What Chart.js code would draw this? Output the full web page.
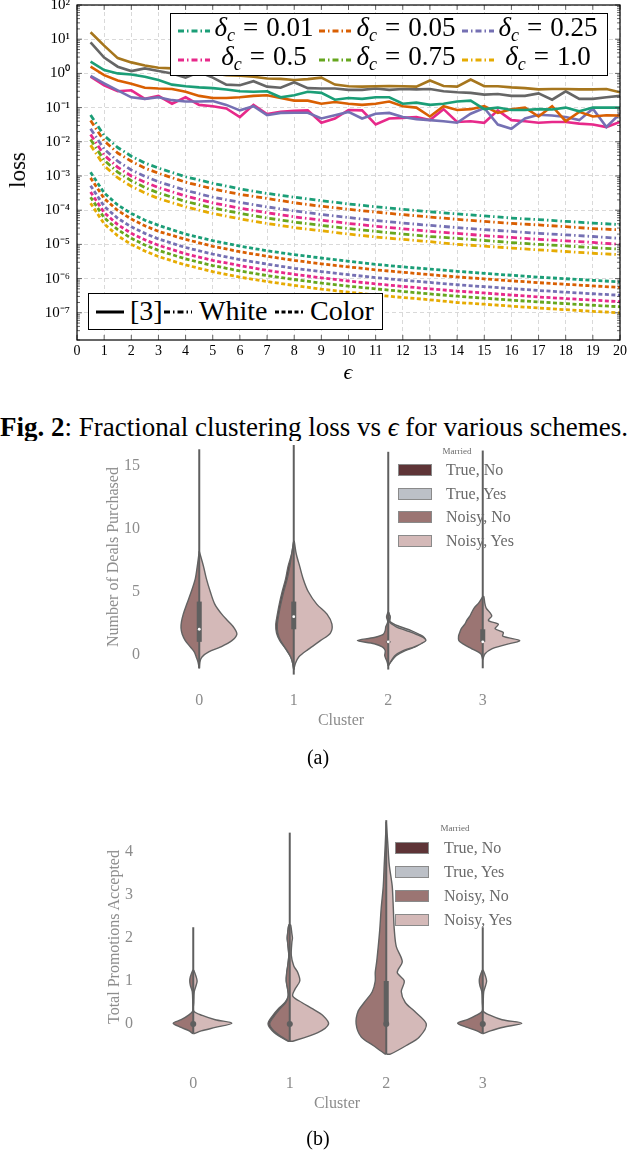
<!DOCTYPE html>
<html>
<head>
<meta charset="utf-8">
<script src="https://cdn.jsdelivr.net/npm/chart.js@4.4.0/dist/chart.umd.min.js"></script>
<style>
  body { margin: 0; width: 640px; height: 1150px; position: relative; overflow: hidden; background: #fff; font-family: 'Liberation Serif', serif; }
  canvas, .abs { position: absolute; }
  .rot { transform: translate(-50%, -50%) rotate(-90deg); white-space: nowrap; }
  .ctr { transform: translate(-50%, -50%); white-space: nowrap; }
  .box { border: 1px solid #000; background: #fff; box-sizing: border-box; }
  .leg { font-size: 27px; line-height: 30px; color: #000; white-space: nowrap; transform: translate(-50%, -50%); }
  .leg sub { font-size: 18px; vertical-align: -5px; }
  .eq { margin: 0 8px; }
  .vtxt { color: #8c8c8c; font-size: 16px; }
  .vleg { color: #6a6a6a; font-size: 16px; white-space: nowrap; transform: translateY(-50%); }
  .patch { width: 34px; height: 12px; border: 1px solid #8a8a8a; box-sizing: border-box; transform: translateY(-50%); }
</style>
</head>
<body>
<canvas id="lossChart" width="640" height="390" style="left:0;top:0"></canvas>
<div class="abs rot" style="left:18px;top:170px;font-size:23px">loss</div>
<div class="abs ctr" style="left:348px;top:372px;font-size:22px"><i>ϵ</i></div>
<div id="legTop" class="abs box" style="left:170px;top:13px;width:438px;height:63px"></div>
<div id="legBottom" class="abs box" style="left:88px;top:293px;width:295px;height:37px"></div>

<div class="abs" style="left:0;top:412px;width:640px;height:29px;overflow:hidden">
  <div style="font-size:27px;line-height:30px;white-space:nowrap"><b>Fig. 2</b>: Fractional clustering loss vs <i>ϵ</i> for various schemes.</div>
</div>

<canvas id="dealsChart" width="640" height="300" style="left:0;top:441px"></canvas>
<div class="abs rot vtxt" style="left:113px;top:557px">Number of Deals Purchased</div>
<div class="abs ctr vtxt" style="left:341px;top:720px">Cluster</div>
<div class="abs ctr" style="left:318px;top:757px;font-size:20px">(a)</div>
<div id="legDeals"></div>

<canvas id="promoChart" width="640" height="320" style="left:0;top:800px"></canvas>
<div class="abs rot vtxt" style="left:114px;top:937px">Total Promotions Accepted</div>
<div class="abs ctr vtxt" style="left:337px;top:1103px">Cluster</div>
<div class="abs ctr" style="left:318px;top:1138px;font-size:20px">(b)</div>
<div id="legPromo"></div>

<script>
// ---------- Fig. 2 data ----------
const eps = [0.5, 1, 1.5, 2, 2.5, 3, 3.5, 4, 4.5, 5, 5.5, 6, 6.5, 7, 7.5, 8, 8.5, 9, 9.5, 10,
  10.5, 11, 11.5, 12, 12.5, 13, 13.5, 14, 14.5, 15, 15.5, 16, 16.5, 17, 17.5, 18, 18.5, 19, 19.5, 20];
const epsSmooth = [0.5, 1, 1.5, 2, 2.5, 3, 4, 5, 6, 7, 8, 9, 10, 11, 12, 13, 14, 15, 16, 17, 18, 19, 20];
const deltaLabels = ['0.01', '0.05', '0.25', '0.5', '0.75', '1.0'];
const deltaColors = ['#1b9e77', '#d95f02', '#7570b3', '#e7298a', '#66a61e', '#e6ab02'];
const refColors = ['#a6761d', '#666666', '#1b9e77', '#d95f02', '#7570b3', '#e7298a'];

// [3] (solid)
const refLoss = [
  [16, 6.5, 2.8, 2.1, 1.7, 1.47, 1.4, 1.35, 1.12, 1.0, 0.89, 0.85, 0.8, 0.71, 0.69, 0.64, 0.68, 0.75, 0.47, 0.42,
   0.41, 0.42, 0.43, 0.42, 0.41, 0.62, 0.43, 0.41, 0.66, 0.42, 0.42, 0.39, 0.37, 0.34, 0.35, 0.35, 0.34, 0.34, 0.35, 0.28],
  [8.1, 2.9, 1.57, 1.17, 1.4, 1.17, 1.0, 0.75, 1.1, 0.75, 0.47, 0.45, 0.59, 0.41, 0.38, 0.55, 0.37, 0.36, 0.36, 0.33,
   0.33, 0.36, 0.33, 0.35, 0.34, 0.35, 0.3, 0.28, 0.27, 0.24, 0.25, 0.22, 0.22, 0.26, 0.17, 0.3, 0.18, 0.18, 0.2, 0.22],
  [2.2, 1.25, 1.0, 0.93, 0.8, 0.64, 0.47, 0.42, 0.39, 0.37, 0.34, 0.3, 0.29, 0.3, 0.2, 0.23, 0.29, 0.27, 0.17, 0.19,
   0.18, 0.2, 0.2, 0.13, 0.14, 0.12, 0.13, 0.15, 0.16, 0.09, 0.1, 0.085, 0.085, 0.09, 0.088, 0.1, 0.078, 0.1, 0.1, 0.1],
  [1.57, 0.89, 0.62, 0.5, 0.38, 0.36, 0.35, 0.29, 0.22, 0.19, 0.19, 0.2, 0.22, 0.23, 0.19, 0.16, 0.16, 0.13, 0.145, 0.13,
   0.12, 0.13, 0.15, 0.11, 0.1, 0.055, 0.11, 0.085, 0.09, 0.11, 0.07, 0.09, 0.1, 0.055, 0.11, 0.04, 0.075, 0.055, 0.06, 0.059],
  [0.85, 0.51, 0.32, 0.2, 0.18, 0.2, 0.165, 0.15, 0.15, 0.155, 0.12, 0.083, 0.11, 0.06, 0.07, 0.071, 0.071, 0.048, 0.06, 0.075,
   0.048, 0.066, 0.07, 0.053, 0.046, 0.043, 0.04, 0.036, 0.066, 0.097, 0.032, 0.024, 0.048, 0.062, 0.059, 0.053, 0.043, 0.093, 0.027, 0.066],
  [0.8, 0.45, 0.3, 0.32, 0.18, 0.22, 0.13, 0.2, 0.12, 0.11, 0.094, 0.053, 0.12, 0.065, 0.075, 0.08, 0.083, 0.036, 0.048, 0.085,
   0.083, 0.032, 0.048, 0.05, 0.053, 0.043, 0.09, 0.038, 0.04, 0.036, 0.083, 0.043, 0.04, 0.036, 0.038, 0.038, 0.034, 0.032, 0.027, 0.038]
];
// White (dash-dot), one per delta_c
const whiteLoss = [
  [0.061, 0.0152, 0.0068, 0.0038, 0.0024, 0.0017, 9.5e-4, 6.1e-4, 4.2e-4, 3.1e-4, 2.4e-4, 1.9e-4, 1.52e-4, 1.26e-4, 1.06e-4, 9.0e-5, 7.8e-5, 6.8e-5, 5.9e-5, 5.3e-5, 4.7e-5, 4.2e-5, 3.8e-5],
  [0.042, 0.0106, 0.0047, 0.0027, 0.0017, 0.0012, 6.6e-4, 4.2e-4, 2.9e-4, 2.2e-4, 1.65e-4, 1.3e-4, 1.06e-4, 8.8e-5, 7.4e-5, 6.3e-5, 5.4e-5, 4.7e-5, 4.1e-5, 3.7e-5, 3.3e-5, 2.9e-5, 2.65e-5],
  [0.024, 0.0061, 0.0027, 0.0015, 9.8e-4, 6.8e-4, 3.8e-4, 2.4e-4, 1.7e-4, 1.25e-4, 9.5e-5, 7.5e-5, 6.1e-5, 5.0e-5, 4.2e-5, 3.6e-5, 3.1e-5, 2.7e-5, 2.4e-5, 2.1e-5, 1.9e-5, 1.7e-5, 1.5e-5],
  [0.0164, 0.0041, 0.0018, 0.001, 6.6e-4, 4.6e-4, 2.6e-4, 1.64e-4, 1.14e-4, 8.4e-5, 6.4e-5, 5.1e-5, 4.1e-5, 3.4e-5, 2.85e-5, 2.4e-5, 2.1e-5, 1.8e-5, 1.6e-5, 1.4e-5, 1.27e-5, 1.14e-5, 1.0e-5],
  [0.0116, 0.0029, 0.0013, 7.3e-4, 4.6e-4, 3.2e-4, 1.8e-4, 1.16e-4, 8.1e-5, 5.9e-5, 4.5e-5, 3.6e-5, 2.9e-5, 2.4e-5, 2.0e-5, 1.7e-5, 1.5e-5, 1.3e-5, 1.13e-5, 1.0e-5, 9.0e-6, 8.0e-6, 7.3e-6],
  [0.008, 0.002, 8.9e-4, 5.0e-4, 3.2e-4, 2.2e-4, 1.25e-4, 8.0e-5, 5.6e-5, 4.1e-5, 3.1e-5, 2.5e-5, 2.0e-5, 1.65e-5, 1.4e-5, 1.2e-5, 1.0e-5, 8.9e-6, 7.8e-6, 6.9e-6, 6.2e-6, 5.5e-6, 5.0e-6]
];
// Color (dashed), one per delta_c
const colorLoss = [
  [1.28e-3, 3.2e-4, 1.42e-4, 8.0e-5, 5.1e-5, 3.6e-5, 2.0e-5, 1.28e-5, 8.9e-6, 6.5e-6, 5.0e-6, 4.0e-6, 3.2e-6, 2.6e-6, 2.2e-6, 1.9e-6, 1.63e-6, 1.42e-6, 1.25e-6, 1.1e-6, 9.9e-7, 8.9e-7, 8.0e-7],
  [8.8e-4, 2.2e-4, 9.8e-5, 5.5e-5, 3.5e-5, 2.4e-5, 1.4e-5, 8.8e-6, 6.1e-6, 4.5e-6, 3.4e-6, 2.7e-6, 2.2e-6, 1.8e-6, 1.53e-6, 1.3e-6, 1.12e-6, 9.8e-7, 8.6e-7, 7.6e-7, 6.8e-7, 6.1e-7, 5.5e-7],
  [5.2e-4, 1.3e-4, 5.8e-5, 3.25e-5, 2.1e-5, 1.44e-5, 8.1e-6, 5.2e-6, 3.6e-6, 2.65e-6, 2.0e-6, 1.6e-6, 1.3e-6, 1.07e-6, 9.0e-7, 7.7e-7, 6.6e-7, 5.8e-7, 5.1e-7, 4.5e-7, 4.0e-7, 3.6e-7, 3.25e-7],
  [3.4e-4, 8.5e-5, 3.8e-5, 2.1e-5, 1.36e-5, 9.4e-6, 5.3e-6, 3.4e-6, 2.4e-6, 1.73e-6, 1.33e-6, 1.05e-6, 8.5e-7, 7.0e-7, 5.9e-7, 5.0e-7, 4.3e-7, 3.8e-7, 3.3e-7, 2.9e-7, 2.6e-7, 2.35e-7, 2.1e-7],
  [2.4e-4, 6.0e-5, 2.7e-5, 1.5e-5, 9.6e-6, 6.7e-6, 3.75e-6, 2.4e-6, 1.67e-6, 1.22e-6, 9.4e-7, 7.4e-7, 6.0e-7, 5.0e-7, 4.2e-7, 3.55e-7, 3.06e-7, 2.67e-7, 2.34e-7, 2.08e-7, 1.85e-7, 1.66e-7, 1.5e-7],
  [1.6e-4, 4.0e-5, 1.78e-5, 1.0e-5, 6.4e-6, 4.4e-6, 2.5e-6, 1.6e-6, 1.1e-6, 8.2e-7, 6.3e-7, 4.9e-7, 4.0e-7, 3.3e-7, 2.8e-7, 2.4e-7, 2.0e-7, 1.78e-7, 1.56e-7, 1.38e-7, 1.23e-7, 1.1e-7, 1.0e-7]
];
const epsTicks = [0, 1, 2, 3, 4, 5, 6, 7, 8, 9, 10, 11, 12, 13, 14, 15, 16, 17, 18, 19, 20];

// ---------- Violin data (a): deals purchased ----------
const clusters = [0, 1, 2, 3];
const dealsTicks = [0, 5, 10, 15];
const dealsGrid = [
  [8.2, 7, 6, 5, 4, 3.2, 2.6, 2.1, 1.6, 1.1, 0.6, 0.2, -0.2, -0.6, -1.1],
  [9.0, 8, 7, 6, 5, 4, 3.2, 2.4, 1.7, 1.1, 0.4, -0.2, -0.7, -1.2],
  [3.4, 3.0, 2.6, 2.2, 1.9, 1.6, 1.35, 1.1, 0.85, 0.6, 0.3, -0.1, -0.5, -0.9],
  [4.6, 4.1, 3.7, 3.35, 3.05, 2.7, 2.4, 2.05, 1.75, 1.45, 1.1, 0.8, 0.45, 0.05, -0.4]
];
const dealsNoisyNo = [
  [0, .021, .042, .084, .132, .169, .188, .193, .18, .148, .095, .053, .032, .013, 0],
  [0, .021, .042, .069, .106, .137, .158, .174, .169, .14, .079, .032, .011, 0],
  [0, .018, .005, .026, .032, .053, .148, .327, .148, .063, .032, .037, .016, 0],
  [0, .042, .09, .116, .137, .169, .19, .227, .243, .256, .253, .2, .116, .021, 0]
];
const dealsNoisyYes = [
  [0, .045, .076, .116, .164, .238, .312, .37, .398, .345, .227, .1, .029, .006, 0],
  [.005, .026, .063, .1, .153, .243, .352, .404, .388, .282, .153, .053, .018, 0],
  [0, .018, .011, .084, .19, .296, .37, .398, .348, .275, .158, .069, .032, 0],
  [.011, .021, .035, .074, .095, .059, .165, .13, .218, .211, .391, .253, .095, .024, 0]
];
const dealsTrueNo = [null, [0, .022, .06, .086, .122, .153, .173, .19, .182, .148, .082, .032, .011, 0], null, null];
const dealsTrueYes = [null, null, [0, .02, .021, .127, .243, .327, .38, .39, .338, .285, .18, .084, .037, 0], null];
const dealsRange = [[-1.1, 16.3], [-1.6, 16.9], [-1.2, 16.1], [-1.1, 16.2]];
const dealsBox = [[1.0, 4.2], [2.0, 4.2], [0.95, 1.05], [1.0, 2.0]];
const dealsMedian = [2, 3, 1, 1];

// ---------- Violin data (b): promotions accepted ----------
const promoTicks = [0, 1, 2, 3, 4];
const promoGrid = [
  [1.25, 1.1, 1.0, 0.9, 0.75, 0.5, 0.3, 0.2, 0.1, 0.02, -0.08, -0.16, -0.22],
  [2.3, 2.1, 2.0, 1.9, 1.6, 1.35, 1.2, 1.0, 0.8, 0.65, 0.5, 0.35, 0.2, 0.0, -0.2, -0.4],
  [4.7, 4.2, 3.7, 3.2, 2.7, 2.2, 1.8, 1.45, 1.2, 1.0, 0.75, 0.5, 0.3, 0.0, -0.3, -0.5, -0.7],
  [1.25, 1.1, 1.0, 0.9, 0.75, 0.5, 0.3, 0.2, 0.1, 0.02, -0.08, -0.16, -0.22]
];
const promoNoisyNo = [
  [.005, .03, .036, .03, .01, .005, .005, .052, .125, .208, .125, .042, .005],
  [.01, .022, .026, .022, .01, .021, .031, .036, .021, .016, .042, .104, .156, .208, .145, .01],
  [0, .01, .021, .031, .052, .067, .083, .099, .114, .114, .145, .228, .291, .312, .26, .135, .01],
  [.005, .03, .036, .03, .01, .005, .005, .07, .16, .26, .16, .06, .005]
];
const promoNoisyYes = [
  [.005, .03, .04, .03, .01, .005, .005, .093, .228, .4, .228, .083, .01],
  [.01, .022, .028, .022, .016, .042, .083, .104, .052, .031, .125, .239, .343, .402, .291, .031],
  [0, .016, .031, .062, .073, .083, .104, .166, .114, .187, .156, .197, .291, .415, .343, .208, .042],
  [.005, .03, .04, .03, .01, .005, .005, .08, .2, .405, .2, .08, .005]
];
const promoTrueNo = [null, [.01, .022, .026, .022, .01, .021, .031, .036, .021, .016, .05, .12, .175, .225, .16, .015], null, null];
const promoTrueYes = [null, null, null, null];
const promoRange = [[-0.22, 2.25], [-0.4, 4.45], [-0.7, 4.74], [-0.22, 2.25]];
const promoBox = [[-0.02, 0.02], [-0.02, 0.02], [0, 1], [-0.02, 0.02]];
const promoMedian = [0, 0, 0, 0];

const marriedLabels = ['True, No', 'True, Yes', 'Noisy, No', 'Noisy, Yes'];
const marriedColors = ['#5e3437', '#bcc0c7', '#9b7573', '#d4b9b8'];

Chart.defaults.font.family = "'Liberation Serif', serif";

// ---------- Fig. 2 chart ----------
const sup = n => String(n).split('').map(ch => ({'-': '⁻', '0': '⁰', '1': '¹', '2': '²', '3': '³', '4': '⁴',
  '5': '⁵', '6': '⁶', '7': '⁷', '8': '⁸', '9': '⁹'})[ch]).join('');
const isDecade = v => Math.abs(Math.log10(v) - Math.round(Math.log10(v))) < 1e-6;

const frame = {
  id: 'frame',
  afterDraw(chart) {
    const {ctx, chartArea: a, scales: {x, y}} = chart;
    ctx.save();
    ctx.strokeStyle = '#444';
    ctx.lineWidth = 0.8;
    ctx.beginPath();
    y.ticks.forEach(t => {
      const m = t.value / Math.pow(10, Math.floor(Math.log10(t.value) + 1e-9));
      if (Math.abs(m - 1.5) < 1e-6) return;
      const py = y.getPixelForValue(t.value);
      const len = isDecade(t.value) ? 5 : 3;
      ctx.moveTo(a.left, py); ctx.lineTo(a.left + len, py);
      ctx.moveTo(a.right, py); ctx.lineTo(a.right - len, py);
    });
    x.ticks.forEach(t => {
      const px = x.getPixelForValue(t.value);
      ctx.moveTo(px, a.bottom); ctx.lineTo(px, a.bottom - 5);
      ctx.moveTo(px, a.top); ctx.lineTo(px, a.top + 5);
    });
    ctx.stroke();
    ctx.strokeStyle = '#000';
    ctx.lineWidth = 1.2;
    ctx.strokeRect(a.left, a.top, a.right - a.left, a.bottom - a.top);
    ctx.restore();
  }
};

const lossSets = [];
refLoss.forEach((vals, i) => lossSets.push({
  data: eps.map((e, j) => ({x: e, y: vals[j]})),
  borderColor: refColors[i], borderWidth: 2.6
}));
whiteLoss.forEach((vals, i) => lossSets.push({
  data: epsSmooth.map((e, j) => ({x: e, y: vals[j]})),
  borderColor: deltaColors[i], borderWidth: 2.8, borderDash: [6, 3, 1.5, 3]
}));
colorLoss.forEach((vals, i) => lossSets.push({
  data: epsSmooth.map((e, j) => ({x: e, y: vals[j]})),
  borderColor: deltaColors[i], borderWidth: 2.8, borderDash: [4, 2.5]
}));
lossSets.forEach(d => Object.assign(d, {showLine: true, pointRadius: 0, fill: false}));

new Chart(document.getElementById('lossChart'), {
  type: 'scatter',
  data: {datasets: lossSets},
  plugins: [frame],
  options: {
    responsive: false, animation: false,
    layout: {padding: {top: 5, right: 20, left: 0, bottom: 0}},
    plugins: {legend: {display: false}, tooltip: {enabled: false}},
    scales: {
      x: {
        type: 'linear', min: 0, max: 20,
        afterBuildTicks: s => { s.ticks = epsTicks.map(v => ({value: v})); },
        afterFit: s => { s.height = 50; s.paddingLeft = 0; s.paddingRight = 0; },
        ticks: {color: '#000', font: {size: 14}, padding: 3, maxRotation: 0, autoSkip: false},
        grid: {color: '#d9d9d9', lineWidth: 1, drawTicks: false},
        border: {display: false, dash: [4, 3]}
      },
      y: {
        type: 'logarithmic', min: 1.6e-8, max: 100,
        afterFit: s => { s.width = 77; s.paddingTop = 0; s.paddingBottom = 0; },
        ticks: {
          color: '#000', font: {size: 15}, padding: 7, autoSkip: false,
          callback: v => isDecade(v) ? '10' + sup(Math.round(Math.log10(v))) : ''
        },
        grid: {color: c => (c.tick && isDecade(c.tick.value)) ? '#d9d9d9' : 'rgba(0,0,0,0)', drawTicks: false},
        border: {display: false, dash: [4, 3]}
      }
    }
  }
});

// legends for Fig. 2
const legTop = document.getElementById('legTop');
const legCols = [{s: 7, t: 93}, {s: 148, t: 235}, {s: 291, t: 377}];
deltaLabels.forEach((lab, i) => {
  const col = legCols[i % 3];
  const cy = i < 3 ? 17 : 46;
  legTop.insertAdjacentHTML('beforeend',
    `<svg class="abs" style="left:${col.s}px;top:${cy - 4}px" width="32" height="8">` +
    `<line x1="0" y1="4" x2="32" y2="4" stroke="${deltaColors[i]}" stroke-width="3" stroke-dasharray="6 3 1.5 3"/></svg>` +
    `<div class="abs leg" style="left:${col.t}px;top:${cy}px"><i>δ</i><sub><i>c</i></sub><span class="eq">=</span>${lab}</div>`);
});
const legBottom = document.getElementById('legBottom');
const schemeNames = ['[3]', 'White', 'Color'];
const schemeDash = ['', '6 3 1.5 3', '4 2.5'];
const schemeSample = [7, 75, 186];
const schemeText = [41, 110, 221];
schemeNames.forEach((nm, i) => {
  legBottom.insertAdjacentHTML('beforeend',
    `<svg class="abs" style="left:${schemeSample[i]}px;top:14px" width="28" height="8">` +
    `<line x1="0" y1="4" x2="28" y2="4" stroke="#000" stroke-width="3" stroke-dasharray="${schemeDash[i]}"/></svg>` +
    `<div class="abs" style="left:${schemeText[i]}px;top:1px;font-size:28px;line-height:32px">${nm}</div>`);
});

// ---------- Violin charts ----------
function halfViolin(c, ys, ws, side, color) {
  const pts = [{x: c, y: ys[0]}];
  ys.forEach((y, i) => pts.push({x: c + side * ws[i], y}));
  pts.push({x: c, y: ys[ys.length - 1]});
  return {data: pts, showLine: true, fill: 'shape', backgroundColor: color,
    borderColor: '#626262', borderWidth: 1.4, pointRadius: 0, tension: 0.3};
}

function violinSets(grid, noisyNo, noisyYes, trueNo, trueYes, range, box, median, dotColor, dotSize) {
  const top = [], mid = [], bottom = [];
  clusters.forEach((c, k) => {
    top.push({data: [{x: c, y: median[k]}], showLine: false, pointRadius: dotSize,
      pointBackgroundColor: dotColor, pointBorderWidth: 0});
    top.push({data: [{x: c, y: box[k][0]}, {x: c, y: box[k][1]}], showLine: true,
      borderColor: '#5f5f5f', borderWidth: 5, pointRadius: 0});
    top.push({data: [{x: c, y: range[k][0]}, {x: c, y: range[k][1]}], showLine: true,
      borderColor: '#5f5f5f', borderWidth: 2, pointRadius: 0});
    mid.push(halfViolin(c, grid[k], noisyNo[k], -1, marriedColors[2]));
    mid.push(halfViolin(c, grid[k], noisyYes[k], 1, marriedColors[3]));
    if (trueNo[k]) bottom.push(halfViolin(c, grid[k], trueNo[k], -1, marriedColors[0]));
    if (trueYes[k]) bottom.push(halfViolin(c, grid[k], trueYes[k], 1, marriedColors[1]));
  });
  return top.concat(mid, bottom);
}

function violinChart(id, sets, yMin, yMax, yTicks, axisW, axisH, pad, tickPadX) {
  new Chart(document.getElementById(id), {
    type: 'scatter',
    data: {datasets: sets},
    options: {
      responsive: false, animation: false,
      layout: {padding: pad},
      plugins: {legend: {display: false}, tooltip: {enabled: false}},
      scales: {
        x: {
          type: 'linear', min: -0.5, max: 3.5,
          afterBuildTicks: s => { s.ticks = clusters.map(v => ({value: v})); },
          afterFit: s => { s.height = axisH; s.paddingLeft = 0; s.paddingRight = 0; },
          ticks: {color: '#8c8c8c', font: {size: 16}, padding: tickPadX, maxRotation: 0},
          grid: {display: false, drawTicks: false}, border: {display: false}
        },
        y: {
          type: 'linear', min: yMin, max: yMax,
          afterBuildTicks: s => { s.ticks = yTicks.map(v => ({value: v})); },
          afterFit: s => { s.width = axisW; s.paddingTop = 0; s.paddingBottom = 0; },
          ticks: {color: '#8c8c8c', font: {size: 16}, padding: 12},
          grid: {display: false, drawTicks: false}, border: {display: false}
        }
      }
    }
  });
}

violinChart('dealsChart',
  violinSets(dealsGrid, dealsNoisyNo, dealsNoisyYes, dealsTrueNo, dealsTrueYes, dealsRange, dealsBox, dealsMedian, '#ffffff', 1.4),
  -2.03, 16.64, dealsTicks, 152, 61, {top: 0, right: 110, left: 0, bottom: 0}, 11);
violinChart('promoChart',
  violinSets(promoGrid, promoNoisyNo, promoNoisyYes, promoTrueNo, promoTrueYes, promoRange, promoBox, promoMedian, '#5f5f5f', 3),
  -0.93, 4.86, promoTicks, 145, 56, {top: 15, right: 109, left: 0, bottom: 0}, 10);

function marriedLegend(id, titleX, titleY, patchX, textX, rows) {
  const el = document.getElementById(id);
  let html = `<div class="abs ctr" style="left:${titleX}px;top:${titleY}px;font-size:9px;color:#6a6a6a">Married</div>`;
  marriedLabels.forEach((lab, i) => {
    html += `<div class="abs patch" style="left:${patchX}px;top:${rows[i]}px;background:${marriedColors[i]}"></div>` +
      `<div class="abs vleg" style="left:${textX}px;top:${rows[i]}px">${lab}</div>`;
  });
  el.innerHTML = html;
}
marriedLegend('legDeals', 457, 451, 398, 446, [470, 493.5, 517, 541]);
marriedLegend('legPromo', 455, 828, 395, 444, [848, 872, 896, 920]);
</script>
</body>
</html>
